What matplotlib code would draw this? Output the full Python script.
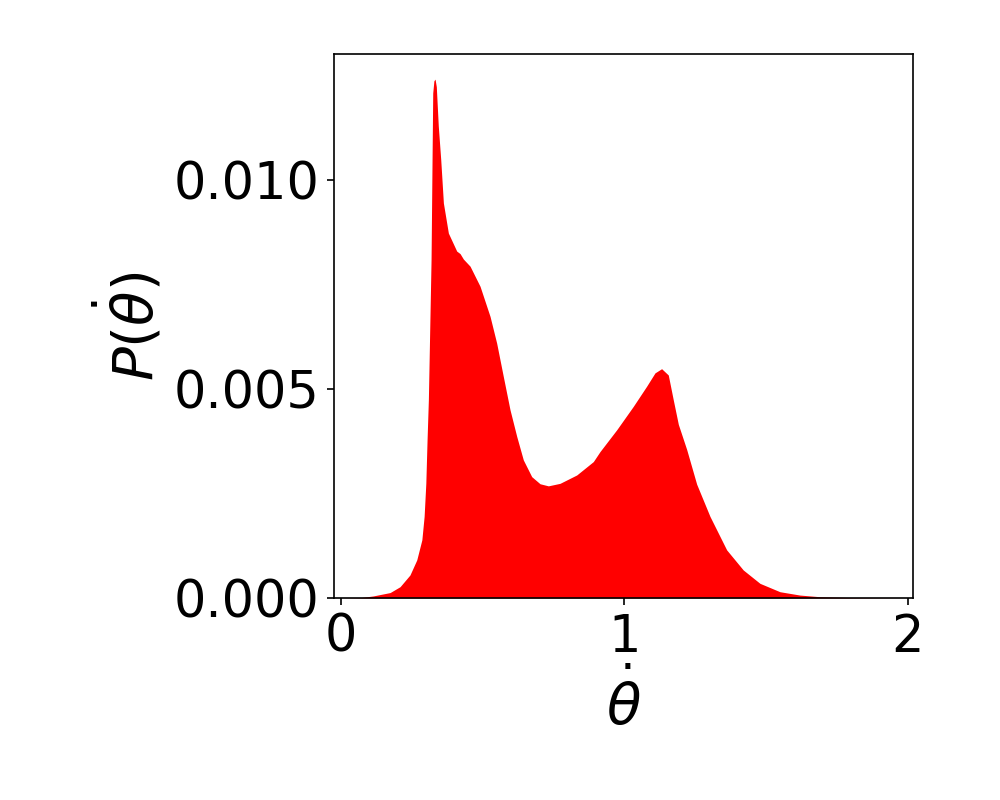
import numpy as np
import matplotlib
matplotlib.use("Agg")
import matplotlib.pyplot as plt

# values
theta_dot = [0.0, 0.07, 0.114, 0.173, 0.208, 0.243, 0.267, 0.285, 0.293, 0.299,
             0.3034, 0.308, 0.3175, 0.321, 0.3234, 0.3275, 0.3316, 0.336, 0.343, 0.3516,
             0.361, 0.3786, 0.408, 0.4198, 0.4315, 0.455, 0.4903, 0.5256, 0.549, 0.5725,
             0.596, 0.6198, 0.643, 0.6726, 0.702, 0.7313, 0.7725, 0.8314, 0.89, 0.9136,
             0.9725, 1.031, 1.078, 1.1076, 1.131, 1.1545, 1.172, 1.19, 1.2194, 1.2547,
             1.3016, 1.3605, 1.419, 1.478, 1.5485, 1.619, 1.69, 1.8, 2.0]
prob = [0.0, 0.00001, 0.00005, 0.00013, 0.00027, 0.00055, 0.00091, 0.00139, 0.00195, 0.00274,
        0.00378, 0.00474, 0.00809, 0.01048, 0.01207, 0.01236, 0.0124, 0.01222, 0.01128, 0.01048,
        0.00944, 0.00872, 0.00829, 0.00823, 0.0081, 0.00793, 0.00745, 0.00673, 0.00609, 0.00529,
        0.0045, 0.00386, 0.0033, 0.0029, 0.00273, 0.00268, 0.00274, 0.00294, 0.00326, 0.0035,
        0.00402, 0.00458, 0.00506, 0.00538, 0.00548, 0.00533, 0.00474, 0.00415, 0.00355, 0.00272,
        0.00195, 0.00115, 0.00067, 0.00035, 0.00015, 0.00007, 0.00003, 0.00001, 0.0]

fig = plt.figure(figsize=(1000/150, 800/150), dpi=150)
ax = fig.add_axes([0.334, 0.2525, 0.579, 0.68])

ax.fill_between(theta_dot, 0, prob, color='red', linewidth=0)

ax.set_xlim(-0.025, 2.018)
ax.set_ylim(0, 0.0130)
ax.set_xticks([0, 1, 2])
ax.set_yticks([0.0, 0.005, 0.010])
ax.set_yticklabels(['0.000', '0.005', '0.010'])
ax.tick_params(labelsize=24.5)

ax.set_xlabel(r'$\dot{\theta}$', fontsize=27)
ax.set_ylabel(r'$P(\dot{\theta})$', fontsize=27)

fig.savefig("out.png", dpi=150)
